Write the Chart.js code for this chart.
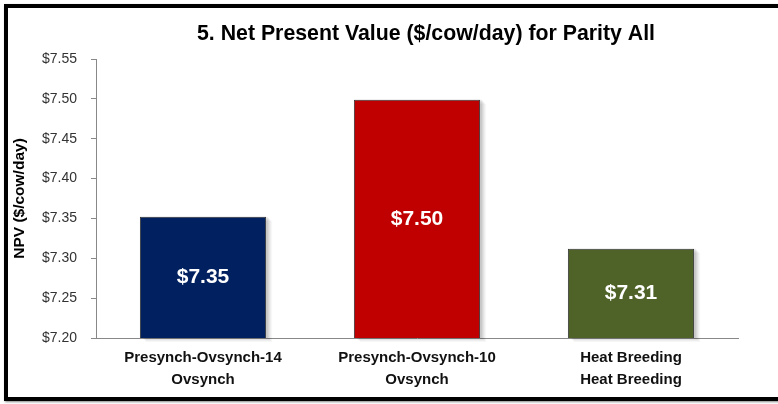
<!DOCTYPE html>
<html>
<head>
<meta charset="utf-8">
<script src="https://cdn.jsdelivr.net/npm/chart.js@4"></script>
<style>
  body { margin: 0; background: #fff; }
  #frame {
    position: absolute; left: 4px; top: 4px; width: 800px; height: 389px;
    border-left: 4px solid #000; border-top: 4px solid #000; border-bottom: 4px solid #000;
    box-shadow: 1px 1px 2px #888;
  }
  #wrap { position: absolute; left: 0; top: 0; width: 778px; height: 404px; }
  #err { position: absolute; left: 120px; top: 10px; color: red; font: 12px monospace; }
</style>
</head>
<body>
<div id="frame"></div>
<div id="wrap"><canvas id="grafico" width="778" height="404"></canvas></div>
<div id="err"></div>
<script>
// datos
const categorias = [
  ["Presynch-Ovsynch-14", "Ovsynch"],
  ["Presynch-Ovsynch-10", "Ovsynch"],
  ["Heat Breeding", "Heat Breeding"]
];
const valores = [7.352, 7.499, 7.312];
const etiquetas = ["$7.35", "$7.50", "$7.31"];
const colores = ["#002060", "#c00000", "#4f6228"];
const tituloGrafico = "5. Net Present Value ($/cow/day) for Parity All";
const tituloEjeY = "NPV ($/cow/day)";

const fuente = "'Liberation Sans', Arial, sans-serif";

// sombra de las barras, hecha a mano con capas
const sombra = {
  id: "sombra",
  beforeDatasetsDraw(chart) {
    const c = chart.ctx;
    const escX = chart.scales.x;
    const escY = chart.scales.y;
    const ancho = escX.width / categorias.length * 0.59;
    c.save();
    valores.forEach((v, i) => {
      const x = escX.getPixelForValue(i) - ancho / 2;
      const arriba = escY.getPixelForValue(v);
      const abajo = escY.bottom;
      for (let k = 1; k <= 5; k++) {
        c.fillStyle = "rgba(0,0,0," + (0.07 - k * 0.008) + ")";
        c.fillRect(x + 1 + k, arriba + k - 1, ancho, abajo - arriba);
      }
    });
    c.restore();
  }
};

// texto blanco dentro de las barras y titulo centrado sobre el area
const textos = {
  id: "textos",
  afterDraw(chart) {
    const c = chart.ctx;
    const escX = chart.scales.x;
    const escY = chart.scales.y;
    const area = chart.chartArea;
    c.save();
    c.fillStyle = "#fff";
    c.font = "bold 21px " + fuente;
    c.textAlign = "center";
    c.textBaseline = "middle";
    valores.forEach((v, i) => {
      const yy = (escY.getPixelForValue(v) + escY.bottom) / 2;
      c.fillText(etiquetas[i], escX.getPixelForValue(i), yy);
    });
    c.fillStyle = "#000";
    c.font = "bold 21.3px " + fuente;
    c.fillText(tituloGrafico, (area.left + area.right) / 2 + 9, 34);
    c.restore();
  }
};

try {
  const lienzo = document.getElementById("grafico").getContext("2d");
  const grafico = new Chart(lienzo, {
    type: "bar",
    data: {
      labels: categorias,
      datasets: [{
        data: valores,
        backgroundColor: colores,
        borderColor: "#333",
        borderWidth: 1,
        categoryPercentage: 1,
        barPercentage: 0.59
      }]
    },
    options: {
      responsive: false,
      animation: false,
      layout: { padding: { left: 10, right: 40, top: 59, bottom: 0 } },
      plugins: {
        legend: { display: false },
        tooltip: { enabled: false },
        title: { display: false }
      },
      scales: {
        x: {
          grid: { display: false },
          border: { color: "#888", width: 1 },
          ticks: {
            color: "#111",
            font: { family: fuente, size: 15, weight: "bold", lineHeight: 1.45 },
            padding: 1,
            maxRotation: 0
          },
          afterFit(scale) { scale.height = 66; }
        },
        y: {
          min: 7.2,
          max: 7.55,
          grid: { drawOnChartArea: false, drawTicks: true, tickLength: 5, color: "#888" },
          border: { color: "#888", width: 1 },
          ticks: {
            stepSize: 0.05,
            color: "#333",
            font: { family: fuente, size: 14 },
            padding: 14,
            callback: v => "$" + v.toFixed(2)
          },
          title: {
            display: true,
            text: tituloEjeY,
            color: "#000",
            font: { family: fuente, size: 15.5, weight: "bold" },
            padding: { top: 0, bottom: 0 }
          },
          afterFit(scale) { scale.width = 86; }
        }
      }
    },
    plugins: [sombra, textos]
  });
} catch (e) {
  document.getElementById("err").textContent = e.message;
}
</script>
</body>
</html>
